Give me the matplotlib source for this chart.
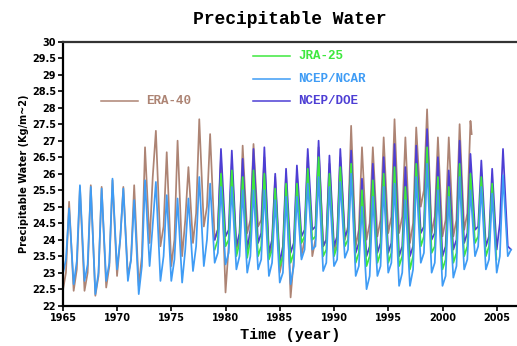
import numpy as np
import matplotlib
matplotlib.use("Agg")
import matplotlib.pyplot as plt

# ---- data: per year trough (Jan), shoulder (Apr), peak (Jul/Aug) ----
era_years = list(range(1965, 2003))
era_trough = [22.45, 22.45, 22.45, 22.3, 22.55, 22.9, 22.9, 22.6, 23.9, 23.8,
              23.2, 23.5, 23.9, 24.4, 24.0, 22.4, 23.7, 24.2, 24.4, 23.5,
              23.0, 22.25, 23.5, 23.5, 23.8, 23.6, 24.0, 23.8, 24.0, 24.1,
              24.2, 24.2, 23.9, 25.0, 24.2, 24.1, 24.1, 24.3]
era_shoulder = [23.0, 23.1, 23.0, 22.9, 23.2, 24.0, 23.4, 23.5, 25.9, 24.4,
                24.0, 24.6, 24.8, 25.0, 24.3, 23.8, 24.0, 24.6, 24.6, 23.8,
                23.5, 23.4, 24.0, 24.0, 24.0, 24.0, 24.4, 24.3, 24.5, 24.6,
                24.7, 24.7, 24.5, 25.5, 24.7, 24.6, 24.6, 24.8]
era_peak = [25.15, 25.6, 25.65, 25.6, 25.8, 25.6, 25.65, 26.8, 27.3, 26.65,
            27.0, 26.2, 27.65, 27.2, 26.5, 26.3, 26.85, 26.9, 26.5, 25.9,
            26.0, 26.0, 26.5, 26.8, 26.3, 26.5, 27.45, 26.8, 26.8, 27.1,
            27.65, 27.1, 27.4, 27.95, 27.1, 27.1, 27.5, 27.6]
era_tail_t = [2002.67]
era_tail = [27.2]

jra_years = list(range(1979, 2005))
jra_trough = [23.7, 23.8, 23.5, 23.45, 23.5, 23.4, 23.2, 23.3, 23.9, 24.0,
              23.5, 23.5, 23.8, 23.3, 23.2, 23.3, 23.3, 23.2, 23.1, 23.8,
              23.6, 23.1, 23.3, 23.5, 23.9, 23.5]
jra_shoulder = [24.0, 24.0, 23.9, 24.0, 23.8, 23.7, 23.5, 23.6, 24.1, 24.1,
                23.7, 23.8, 24.0, 23.6, 23.5, 23.6, 23.6, 23.5, 23.5, 24.1,
                23.8, 23.4, 23.6, 23.8, 24.1, 23.8]
jra_peak = [26.0, 26.1, 25.9, 26.1, 26.0, 25.55, 25.7, 25.7, 26.15, 26.5,
            26.0, 26.2, 26.3, 25.5, 25.8, 26.0, 26.2, 25.6, 26.3, 26.8,
            25.9, 25.6, 26.3, 26.0, 25.9, 25.7]
jra_tail_t = [2004.95]
jra_tail = [23.4]

ncar_years = list(range(1965, 2006))
ncar_trough = [22.95, 22.65, 22.75, 22.35, 22.75, 23.1, 22.75, 22.35, 23.2, 22.75,
               22.75, 22.7, 23.05, 23.2, 23.3, 23.25, 23.1, 23.0, 23.1, 22.9,
               22.7, 22.65, 23.4, 23.7, 23.05, 23.2, 23.45, 22.9, 22.5, 22.9,
               23.0, 22.6, 22.6, 23.3, 23.0, 22.6, 22.85, 23.1, 23.5, 23.1,
               23.0]
ncar_shoulder = [23.4, 23.35, 23.25, 23.0, 23.3, 24.0, 23.4, 23.2, 24.45, 23.5,
                 23.4, 23.7, 23.8, 24.0, 23.6, 23.6, 23.5, 23.5, 23.4, 23.3,
                 23.0, 23.2, 23.7, 23.8, 23.3, 23.4, 23.7, 23.2, 22.9, 23.2,
                 23.3, 23.0, 23.1, 23.6, 23.3, 22.9, 23.2, 23.4, 23.8, 23.4,
                 23.5]
ncar_peak = [24.95, 25.65, 25.6, 25.55, 25.85, 25.55, 25.2, 25.8, 25.75, 25.35,
             25.25, 25.25, 25.9, 25.7, 25.6, 25.6, 25.5, 25.5, 25.5, 25.2,
             25.3, 25.3, 25.7, 25.9, 25.6, 25.75, 26.0, 25.0, 25.3, 25.6,
             25.7, 25.2, 25.9, 26.3, 25.5, 25.3, 25.9, 25.5, 25.6, 25.4,
             25.95]
ncar_tail_t = [2006.0, 2006.3]
ncar_tail = [23.5, 23.7]

doe_years = list(range(1979, 2006))
doe_trough = [24.0, 24.1, 23.8, 23.7, 23.9, 23.6, 23.3, 23.6, 24.1, 24.3,
              23.8, 23.8, 24.1, 23.6, 23.5, 23.6, 23.6, 23.5, 23.5, 24.2,
              24.0, 23.5, 23.7, 23.9, 24.3, 23.8, 23.7]
doe_shoulder = [24.3, 24.3, 24.2, 24.3, 24.2, 24.0, 23.8, 23.9, 24.3, 24.4,
                24.0, 24.1, 24.3, 23.9, 23.8, 23.9, 23.9, 23.8, 23.8, 24.4,
                24.2, 23.8, 24.0, 24.2, 24.4, 24.1, 24.5]
doe_peak = [26.75, 26.7, 26.45, 26.75, 26.8, 26.0, 26.15, 26.25, 26.75, 27.0,
            26.55, 26.75, 26.7, 25.85, 26.3, 26.5, 26.9, 26.2, 26.85, 27.35,
            26.5, 26.1, 27.0, 26.6, 26.4, 26.15, 26.75]
doe_tail_t = [2006.0, 2006.3]
doe_tail = [23.8, 23.7]

ytick_vals = np.arange(22, 30.01, 0.5)
xtick_vals = list(range(1965, 2006, 5))


def build(years, trough, shoulder, peak, tail_t, tail):
    t, v = [], []
    for yr, a, b, c in zip(years, trough, shoulder, peak):
        t += [yr - 0.02, yr + 0.27, yr + 0.56]
        v += [a, b, c]
    return np.array(t + tail_t), np.array(v + tail)


c_era = "#ad8474"
c_jra = "#3ee83e"
c_ncar = "#3f9cf5"
c_doe = "#4d3ed4"

fig = plt.figure(figsize=(5.17, 3.46), dpi=100)
ax = fig.add_axes([0.1219, 0.1165, 0.8781, 0.763])

series = [
    (build(era_years, era_trough, era_shoulder, era_peak, era_tail_t, era_tail), c_era),
    (build(doe_years, doe_trough, doe_shoulder, doe_peak, doe_tail_t, doe_tail), c_doe),
    (build(jra_years, jra_trough, jra_shoulder, jra_peak, jra_tail_t, jra_tail), c_jra),
    (build(ncar_years, ncar_trough, ncar_shoulder, ncar_peak, ncar_tail_t, ncar_tail), c_ncar),
]
for (t, v), col in series:
    ax.plot(t, v, color=col, linewidth=1.25)

ax.set_xlim(1965, 2006.85)
ax.set_ylim(22, 30)
ax.set_yticks(ytick_vals)
ax.set_yticklabels([f"{y:g}" for y in ytick_vals])
ax.set_xticks(xtick_vals)
ax.tick_params(direction="out", length=3.5, width=1.2, labelsize=7, pad=1.5)
for lab in ax.get_xticklabels() + ax.get_yticklabels():
    lab.set_fontweight("bold")
for s in ["left", "bottom", "top"]:
    ax.spines[s].set_linewidth(1.6)
ax.spines["top"].set_color("#333333")
ax.spines["right"].set_visible(False)

ax.set_ylabel("Precipitable Water (Kg/m~2)", fontsize=7, fontweight="bold", labelpad=2)
ax.set_xlabel("Time (year)", fontsize=11, fontweight="bold",
              family="Liberation Mono", labelpad=4)
fig.text(0.561, 0.945, "Precipitable Water", ha="center", va="center",
         fontsize=13, fontweight="bold", family="Liberation Mono")

# in-plot legend
legend = [("JRA-25", c_jra, 0.946, 0.418), ("NCEP/NCAR", c_ncar, 0.858, 0.418),
          ("NCEP/DOE", c_doe, 0.775, 0.418), ("ERA-40", c_era, 0.775, 0.083)]
for name, col, yy, x0 in legend:
    ax.plot([x0, x0 + 0.082], [yy, yy], color=col, linewidth=1.1,
            transform=ax.transAxes)
    ax.text(x0 + 0.1, yy, name, color=col, fontsize=9, fontweight="bold",
            family="Liberation Mono", va="center", ha="left", transform=ax.transAxes)

fig.savefig("out.png", dpi=100)
